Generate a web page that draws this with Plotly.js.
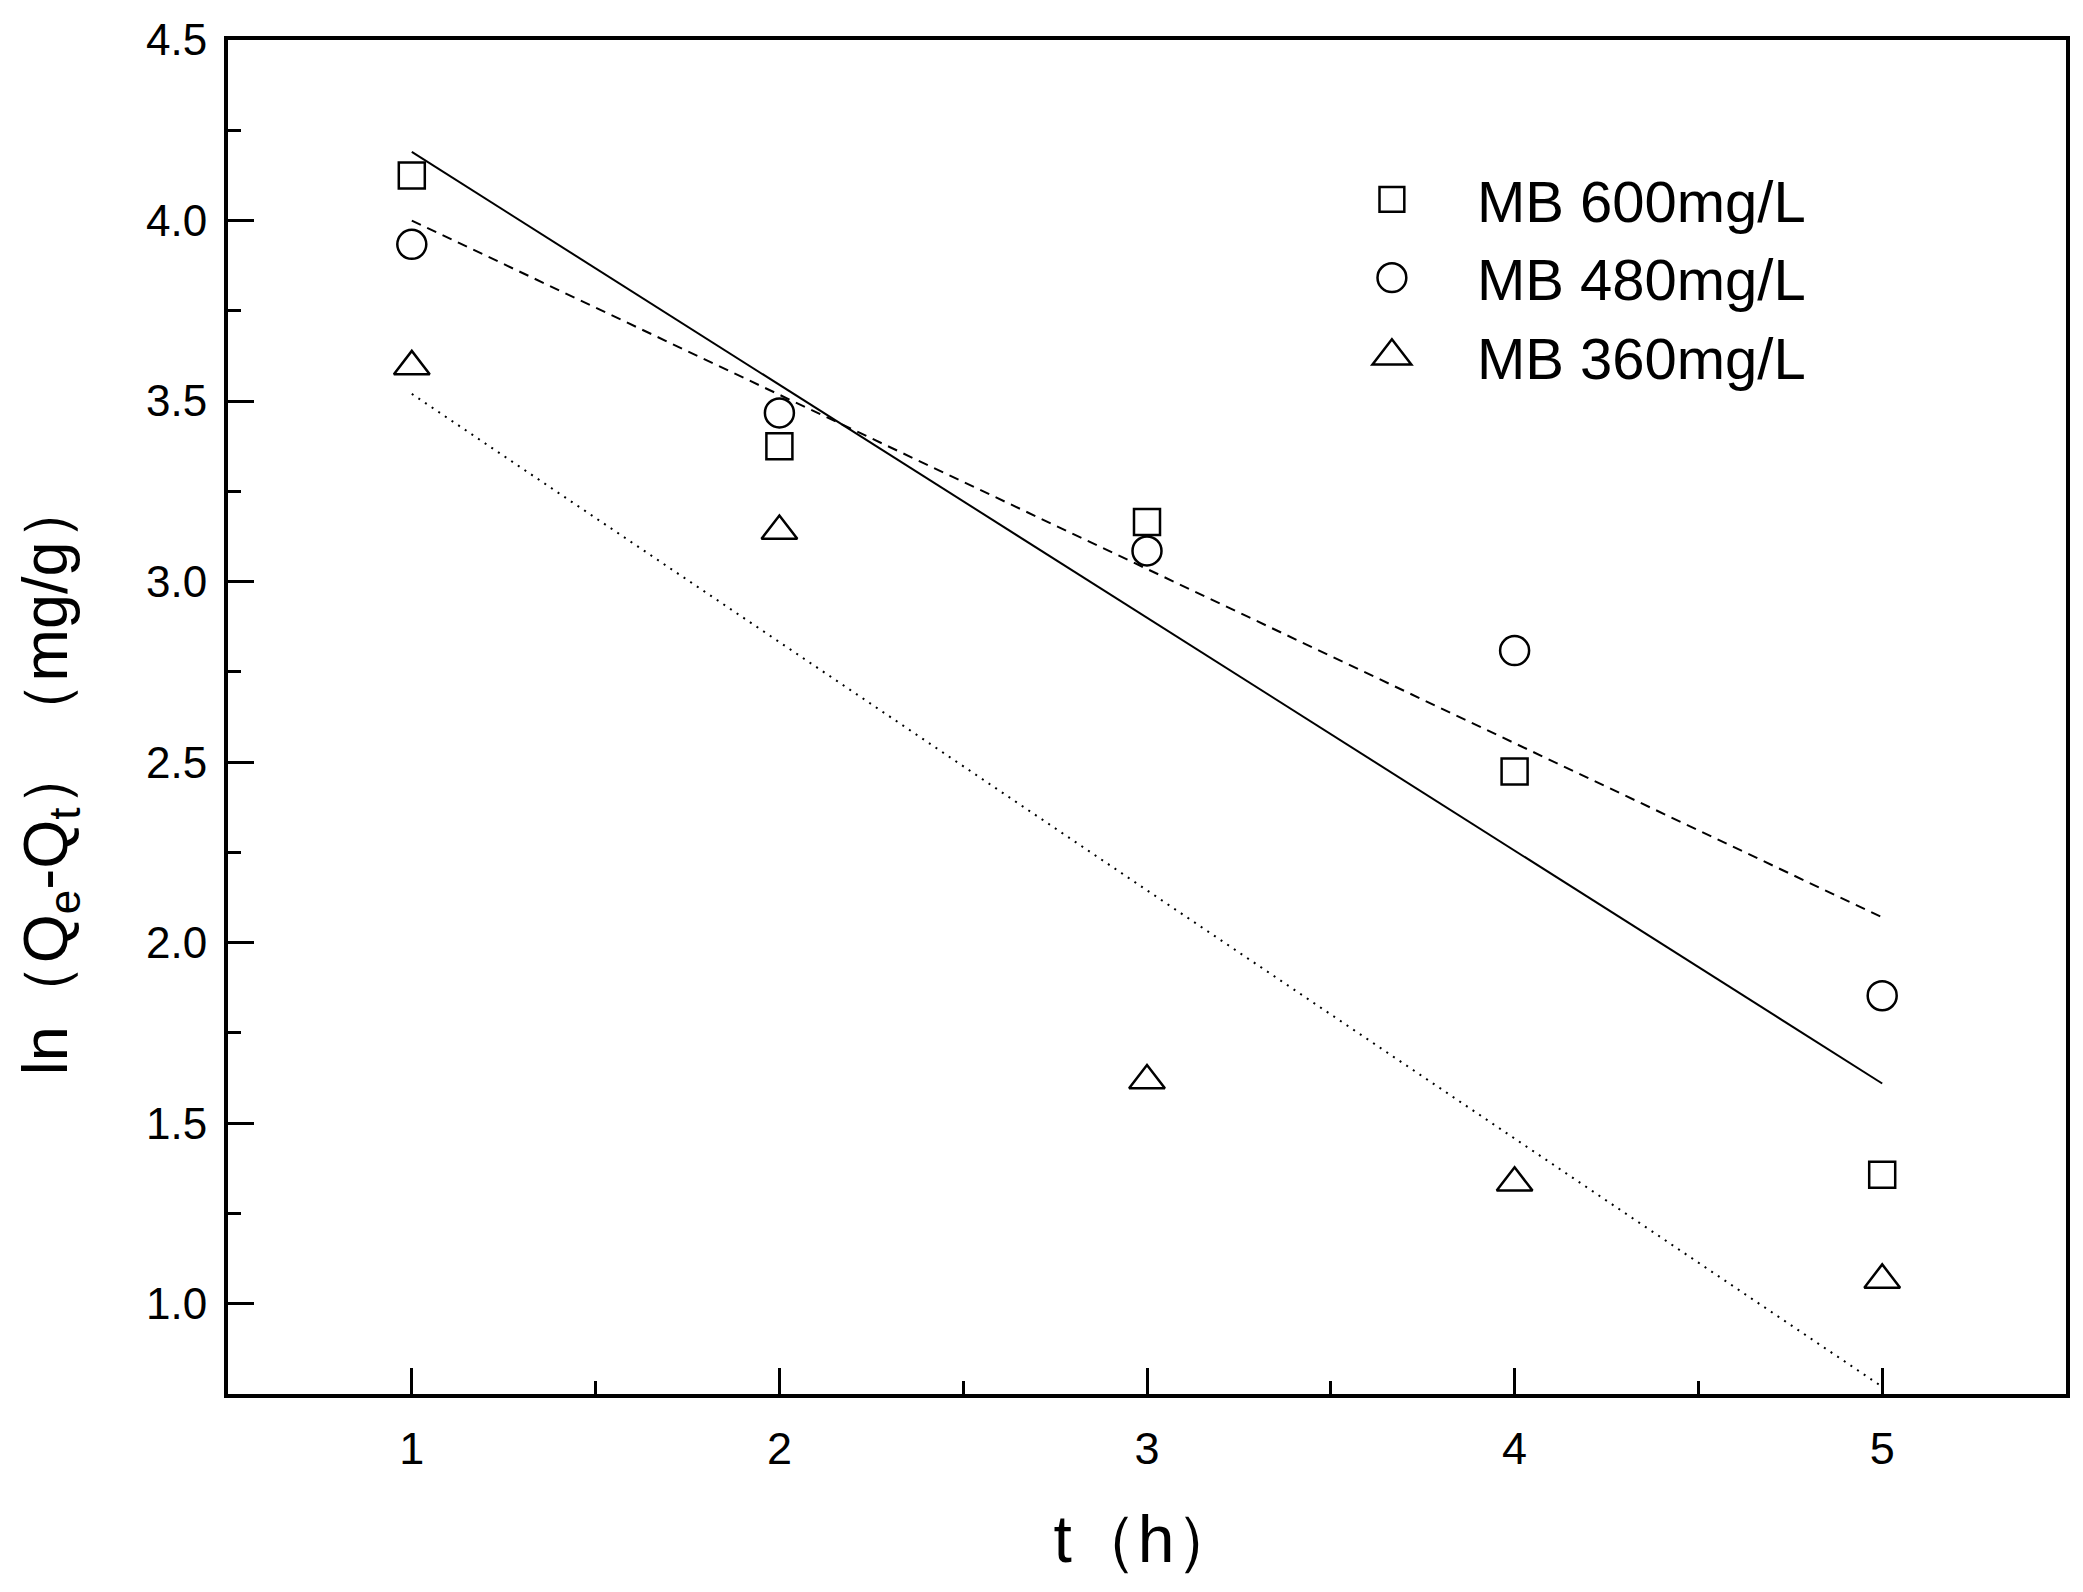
<!DOCTYPE html>
<html>
<head>
<meta charset="utf-8">
<script src="https://cdn.plot.ly/plotly-3.0.1.min.js"></script>
<style>html,body{margin:0;padding:0;background:#fff;}#chart{width:2083px;height:1592px;}</style>
</head>
<body>
<div id="chart"></div>
<script>
// time (h)
var tHours = [1, 2, 3, 4, 5];
// ln(Qe-Qt) measured values
var mb600 = [4.125, 3.375, 3.165, 2.474, 1.357];
var mb480 = [3.934, 3.467, 3.085, 2.809, 1.853];
var mb360 = [3.596, 3.140, 1.618, 1.335, 1.066];
// linear fit lines (end points)
var fitT = [1, 5];
var fit600 = [4.19, 1.61];
var fit480 = [4.00, 2.07];
var fit360 = [3.52, 0.77];
var seriesNames = ['MB 600mg/L', 'MB 480mg/L', 'MB 360mg/L'];
var xTickVals = [1, 2, 3, 4, 5];
var yTickVals = [1.0, 1.5, 2.0, 2.5, 3.0, 3.5, 4.0, 4.5];
var xTitle = 't（h）';
var yTitle = 'ln（Q<sub>e</sub>-Q<sub>t</sub>）（mg/g）';

var FONT = 'Liberation Sans, Arial, Helvetica, sans-serif';

var traces = [
  {x: fitT, y: fit600, mode: 'lines', line: {color: '#000', width: 2, dash: 'solid'}, showlegend: false, hoverinfo: 'skip'},
  {x: fitT, y: fit480, mode: 'lines', line: {color: '#000', width: 2, dash: '10px,7px'}, showlegend: false, hoverinfo: 'skip'},
  {x: fitT, y: fit360, mode: 'lines', line: {color: '#000', width: 2, dash: '2px,6px'}, showlegend: false, hoverinfo: 'skip'},
  {x: tHours, y: mb600, name: seriesNames[0], mode: 'markers', marker: {symbol: 'square-open', size: 26, color: '#000', line: {width: 2.5, color: '#000'}}},
  {x: tHours, y: mb480, name: seriesNames[1], mode: 'markers', marker: {symbol: 'circle-open', size: 29, color: '#000', line: {width: 2.5, color: '#000'}}},
  {x: tHours, y: mb360, name: seriesNames[2], mode: 'markers', marker: {symbol: 'triangle-up-open', size: 31, color: '#000', line: {width: 2.5, color: '#000'}}}
];

var layout = {
  width: 2083, height: 1592,
  margin: {l: 228, r: 17, t: 40, b: 198},
  paper_bgcolor: '#fff', plot_bgcolor: '#fff',
  font: {family: FONT, color: '#000'},
  showlegend: true,
  legend: {
    x: 0.587, y: 0.915, xanchor: 'left', yanchor: 'top',
    font: {family: FONT, size: 58, color: '#000'},
    bgcolor: 'rgba(0,0,0,0)', borderwidth: 0,
    itemwidth: 160, tracegroupgap: 0
  },
  xaxis: {
    range: [0.5, 5.5], tickvals: xTickVals, ticktext: xTickVals.map(String),
    ticks: 'inside', ticklen: 26, tickwidth: 3, tickcolor: '#000',
    minor: {dtick: 0.5, tick0: 0.5, ticks: 'inside', ticklen: 13, tickwidth: 3, tickcolor: '#000'},
    showline: true, linewidth: 4, linecolor: '#000', mirror: true,
    showgrid: false, zeroline: false,
    tickfont: {family: FONT, size: 45, color: '#000'},
    ticklabelstandoff: 12,
    title: {text: xTitle, font: {family: FONT, size: 66, color: '#000'}, standoff: 44}
  },
  yaxis: {
    range: [0.75, 4.5], tickvals: yTickVals, ticktext: yTickVals.map(function(v){return v.toFixed(1);}),
    ticks: 'inside', ticklen: 26, tickwidth: 3, tickcolor: '#000',
    minor: {dtick: 0.25, tick0: 0, ticks: 'inside', ticklen: 13, tickwidth: 3, tickcolor: '#000'},
    showline: true, linewidth: 4, linecolor: '#000', mirror: true,
    showgrid: false, zeroline: false,
    tickfont: {family: FONT, size: 44, color: '#000'},
    ticklabelstandoff: 8,
    title: {text: ''}
  },
  annotations: [{
    text: yTitle, textangle: -90, showarrow: false,
    xref: 'paper', yref: 'paper', x: -0.097, y: 0.456,
    xanchor: 'center', yanchor: 'middle',
    font: {family: FONT, size: 63, color: '#000'}
  }]
};

var gd = document.getElementById('chart');
Plotly.newPlot(gd, traces, layout, {displayModeBar: false, staticPlot: true}).then(function () {
  var scales = [1.55, 1.8, 2.1];
  var items = gd.querySelectorAll('.legend .traces');
  items.forEach(function (it, i) {
    it.querySelectorAll('path.scatterpts').forEach(function (p) {
      var tr = p.getAttribute('transform') || '';
      p.setAttribute('transform', tr + ' scale(' + scales[i] + ')');
      p.style.vectorEffect = 'non-scaling-stroke';
      p.style.strokeWidth = '2.5px';
    });
  });
});
</script>
</body>
</html>
